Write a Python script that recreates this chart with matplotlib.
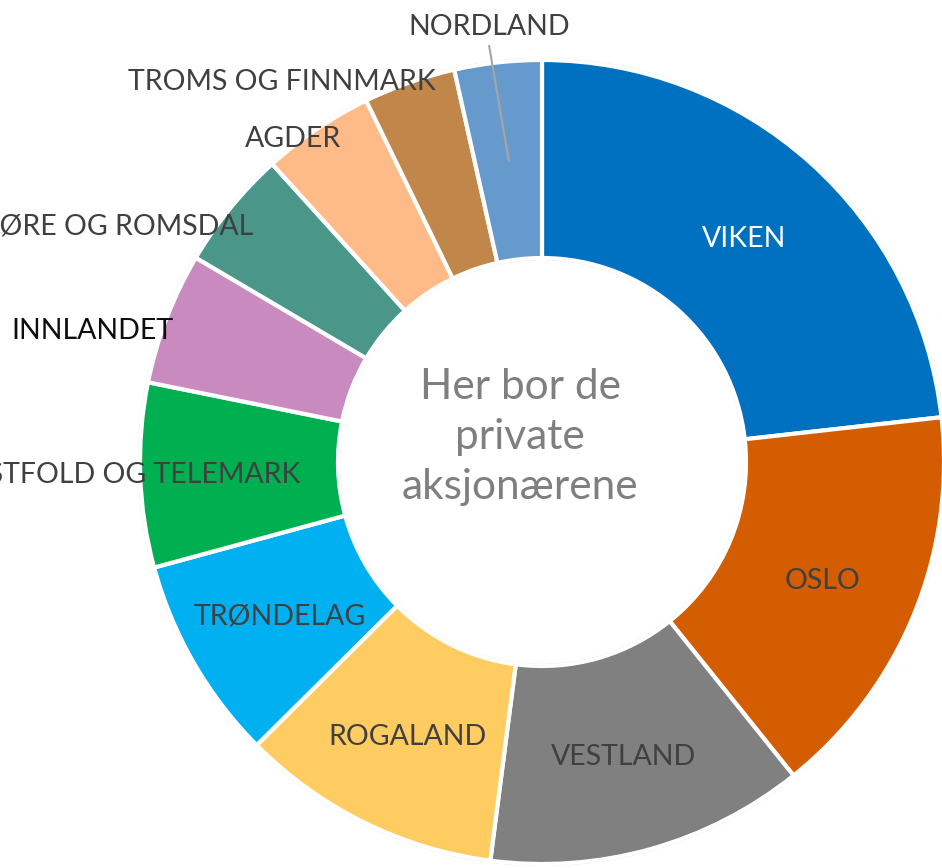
import matplotlib
matplotlib.use("Agg")
import matplotlib.pyplot as plt
from matplotlib.patches import Circle
import numpy as np

plt.rcParams['font.family'] = ['Lato', 'DejaVu Sans']

regions = ["VIKEN", "OSLO", "VESTLAND", "ROGALAND", "TRØNDELAG",
           "VESTFOLD OG TELEMARK", "INNLANDET", "MØRE OG ROMSDAL",
           "AGDER", "TROMS OG FINNMARK", "NORDLAND"]
shares = [23.2, 16.0, 12.8, 10.5, 8.2, 7.4, 5.3, 4.8, 4.5, 3.7, 3.5]
colors = ["#0070C0", "#D35D00", "#808080", "#FFCC61", "#00B0F0",
          "#00AF50", "#C98ABF", "#4A9688", "#FFBB87", "#C1864A", "#6699CC"]
label_colors = ["white", "#404040", "#404040", "#404040", "#404040",
                "#404040", "#0D0D0D", "#404040", "#404040", "#404040", "#404040"]
center_text = "Her bor de\nprivate\naksjonærene"

W, H = 942, 868
fig = plt.figure(figsize=(W / 100, H / 100), dpi=100)
ax = fig.add_axes([0, 0, 1, 1])

cx, cy = 542, H - 462
R, r = 402, 204

wedges, _ = ax.pie(shares, colors=colors, startangle=90, counterclock=False,
                   radius=R, center=(cx, cy),
                   wedgeprops=dict(width=R - r, edgecolor="white", linewidth=3))

# faint outline
ax.add_patch(Circle((cx, cy), R + 1.5, fill=False, ec="#D8D8D8", lw=0.8, zorder=0))
ax.add_patch(Circle((cx, cy), r - 1.5, fill=False, ec="#D8D8D8", lw=0.8, zorder=0))

fs = 20.5
dy = 3  # small downward nudge so caps sit centred like the reference
# inside labels placed at the middle of the ring
inside = {0, 1, 2, 3, 4}
for i, w in enumerate(wedges):
    if i in inside:
        ang = np.deg2rad((w.theta1 + w.theta2) / 2)
        rm = (R + r) / 2
        ax.text(cx + rm * np.cos(ang), cy + rm * np.sin(ang) - dy, regions[i],
                ha="center", va="center", fontsize=fs, color=label_colors[i])

# outside / shifted labels (pixel positions: x, y from top, ha)
outside_pos = {
    5: (300, 472, "right"),
    6: (92, 328, "center"),
    7: (253, 223, "right"),
    8: (293, 136, "center"),
    9: (282, 79, "center"),
    10: (489, 24, "center"),
}
for i, (x, y, ha) in outside_pos.items():
    ax.text(x, H - y - dy, regions[i], ha=ha, va="center", fontsize=fs,
            color=label_colors[i])

# leader line for NORDLAND
ax.plot([489, 509], [H - 45, H - 162], color="#A6A6A6", lw=1.5,
        solid_capstyle="butt")

ax.text(520, H - 437, center_text, ha="center", va="center", fontsize=30.5,
        color="#7F7F7F", linespacing=1.4)

ax.set_xlim(0, W)
ax.set_ylim(0, H)
ax.set_aspect("equal")
ax.set_axis_off()

fig.savefig("out.png", dpi=100, facecolor="white")
